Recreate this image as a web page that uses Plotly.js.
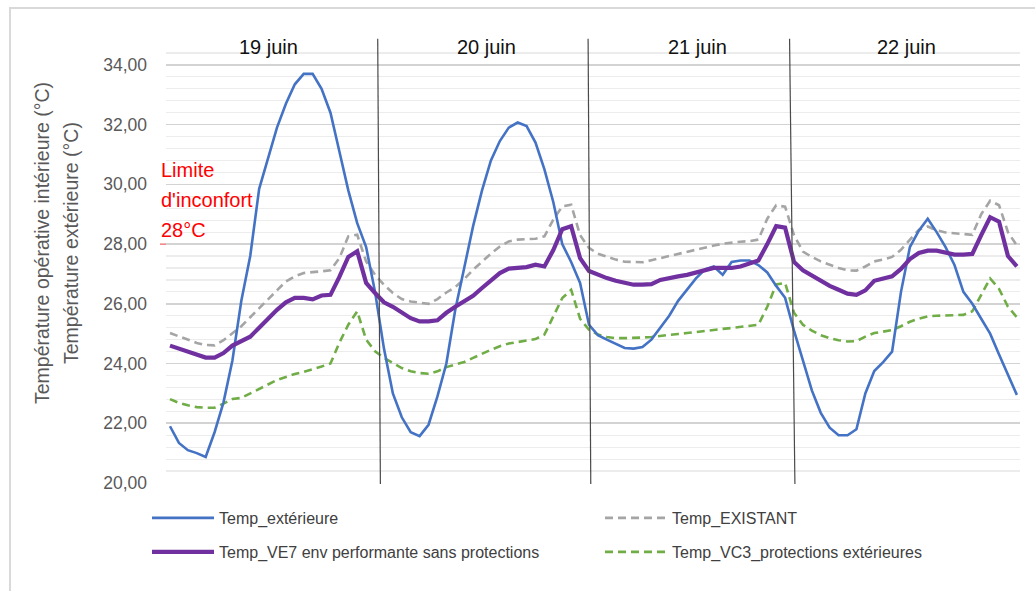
<!DOCTYPE html>
<html>
<head>
<meta charset="utf-8">
<script src="https://cdn.plot.ly/plotly-3.0.1.min.js"></script>
<style>
  html, body { margin: 0; padding: 0; background: #ffffff; }
  #wrap { position: relative; width: 1035px; height: 591px; overflow: hidden; }
  #chart { position: absolute; left: 0; top: 0; width: 1035px; height: 591px; }
  #frame { position: absolute; left: 9px; top: 7px; width: 1040px; height: 600px;
           border-top: 2px solid #d9d9d9; border-left: 2px solid #d9d9d9; pointer-events: none; }
</style>
</head>
<body>
<div id="wrap"><div id="chart"></div><div id="frame"></div></div>
<script>
// Hourly samples, 19 to 22 June (96 hours)
const hours = Array.from({length: 96}, (_, i) => i);

const tempExterieure = [
  21.9, 21.34, 21.1, 21.0, 20.87, 21.7, 22.7, 24.1, 26.1, 27.6, 29.85, 30.9, 31.9, 32.7, 33.35, 33.7, 33.7, 33.2, 32.4, 31.1, 29.8, 28.7, 27.9, 26.4, 24.5,
  23.0, 22.2, 21.7, 21.57, 21.95, 22.9, 24.0, 25.8, 27.2, 28.6, 29.8, 30.8, 31.45, 31.9, 32.07, 31.95, 31.4, 30.5, 29.4, 28.0, 27.4, 26.7, 25.3,
  24.95, 24.8, 24.65, 24.52, 24.5, 24.55, 24.8, 25.2, 25.6, 26.1, 26.46, 26.85, 27.15, 27.25, 26.97, 27.4, 27.45, 27.45, 27.3, 27.05, 26.6, 26.2,
  25.1, 24.1, 23.1, 22.35, 21.85, 21.6, 21.6, 21.8, 23.0, 23.75, 24.05, 24.4, 26.4, 27.9, 28.45, 28.85, 28.4, 27.9, 27.3, 26.4, 26.0, 25.5, 25.0, 24.3, 23.6, 22.95
];

const tempExistant = [
  25.02, 24.91, 24.8, 24.69, 24.62, 24.61, 24.78, 25.02, 25.25, 25.55, 25.85, 26.15, 26.45, 26.75, 26.92, 27.03, 27.06, 27.09, 27.12, 27.53, 28.26, 28.31, 27.42, 26.97, 26.64,
  26.36, 26.16, 26.08, 26.03, 26.0, 26.16, 26.38, 26.56, 26.83, 27.14, 27.42, 27.68, 27.92, 28.09, 28.15, 28.17, 28.18, 28.26, 28.82, 29.26, 29.32, 28.3, 27.87,
  27.68, 27.57, 27.48, 27.41, 27.39, 27.39, 27.46, 27.53, 27.61, 27.68, 27.76, 27.81, 27.88, 27.95, 28.01, 28.05, 28.08, 28.1, 28.15, 28.85, 29.3, 29.25,
  28.3, 27.75, 27.57, 27.42, 27.31, 27.2, 27.12, 27.11, 27.25, 27.42, 27.48, 27.57, 27.81, 28.15, 28.48, 28.59, 28.46, 28.39, 28.37, 28.35, 28.31, 29.0, 29.45, 29.3, 28.4, 27.95
];

const tempVE7 = [
  24.6, 24.5, 24.4, 24.3, 24.2, 24.2, 24.35, 24.6, 24.75, 24.9, 25.2, 25.5, 25.8, 26.05, 26.2, 26.2, 26.15, 26.28, 26.3, 26.9, 27.57, 27.76, 26.7, 26.36, 26.05,
  25.9, 25.7, 25.52, 25.41, 25.41, 25.45, 25.7, 25.9, 26.08, 26.27, 26.53, 26.79, 27.03, 27.18, 27.2, 27.23, 27.31, 27.25, 27.8, 28.5, 28.6, 27.53, 27.1,
  26.97, 26.86, 26.77, 26.7, 26.64, 26.64, 26.66, 26.8, 26.87, 26.92, 26.97, 27.05, 27.14, 27.2, 27.2, 27.2, 27.25, 27.34, 27.45, 28.0, 28.6, 28.55,
  27.4, 27.12, 26.94, 26.75, 26.6, 26.47, 26.34, 26.3, 26.45, 26.77, 26.85, 26.92, 27.17, 27.5, 27.7, 27.78, 27.78, 27.7, 27.65, 27.65, 27.67, 28.3, 28.9, 28.75, 27.6, 27.25
];

const tempVC3 = [
  22.81, 22.68, 22.6, 22.54, 22.52, 22.52, 22.66, 22.81, 22.85, 23.0, 23.15, 23.3, 23.45, 23.55, 23.65, 23.72, 23.8, 23.9, 24.0, 24.7, 25.3, 25.75, 24.8, 24.41, 24.19,
  24.02, 23.85, 23.74, 23.68, 23.66, 23.74, 23.88, 23.96, 24.05, 24.19, 24.33, 24.46, 24.58, 24.67, 24.72, 24.77, 24.82, 24.97, 25.6, 26.19, 26.47, 25.5, 25.13,
  24.97, 24.89, 24.85, 24.85, 24.85, 24.87, 24.89, 24.93, 24.96, 24.99, 25.02, 25.06, 25.1, 25.13, 25.16, 25.19, 25.22, 25.26, 25.3, 25.9, 26.65, 26.7,
  25.7, 25.3, 25.1, 24.95, 24.85, 24.78, 24.74, 24.75, 24.9, 25.02, 25.08, 25.12, 25.25, 25.4, 25.5, 25.58, 25.6, 25.61, 25.62, 25.63, 25.75, 26.3, 26.85, 26.5, 25.9, 25.55
];

const seriesNames = [
  'Temp_extérieure',
  'Temp_EXISTANT',
  'Temp_VE7 env performante sans protections',
  'Temp_VC3_protections extérieures'
];

const dayLabels = ['19 juin', '20 juin', '21 juin', '22 juin'];
const dayLabelHours = [11.0, 35.5, 59.2, 82.6];
// day separators (slightly slanted as in the scanned source): [top, bottom] hour
const separators = [[23.3, 23.6], [46.9, 47.2], [69.5, 70.1]];

const comfortLimit = 28;
const limitText = ['Limite', "d'inconfort", '28°C'];
const yTitleLines = ['Température opérative intérieure (°C)', 'Température extérieure (°C)'];

const FONT = 'Liberation Sans, Arial, sans-serif';

const tExt = {x: hours, y: tempExterieure, name: seriesNames[0], type: 'scatter', mode: 'lines',
   line: {color: '#4472c4', width: 2.6}, legend: 'legend'};
const tExist = {x: hours, y: tempExistant, name: seriesNames[1], type: 'scatter', mode: 'lines',
   line: {color: '#a5a5a5', width: 2.6, dash: '8px,5px'}, legend: 'legend2'};
const tVE7 = {x: hours, y: tempVE7, name: seriesNames[2], type: 'scatter', mode: 'lines',
   line: {color: '#7030a0', width: 4.2}, legend: 'legend3'};
const tVC3 = {x: hours, y: tempVC3, name: seriesNames[3], type: 'scatter', mode: 'lines',
   line: {color: '#70ad47', width: 2.6, dash: '8px,5px'}, legend: 'legend4'};
// draw order: dashed below, purple on top
const drawOrder = [tExist, tVC3, tExt, tVE7];

const shapes = [
  {type: 'line', xref: 'paper', yref: 'y', x0: -0.007, x1: 1, y0: comfortLimit, y1: comfortLimit,
   line: {color: '#ee6464', width: 1.3}, layer: 'below'}
];
separators.forEach(s => shapes.push({
  type: 'line', xref: 'x', yref: 'paper', x0: s[0], x1: s[1], y0: 1.005, y1: -0.002,
  line: {color: '#4a4a4a', width: 1.2}, layer: 'above'
}));

const annotations = [];
dayLabels.forEach((d, k) => annotations.push({
  text: d, x: dayLabelHours[k], xref: 'x', y: 0.986, yref: 'paper',
  showarrow: false, xanchor: 'center', yanchor: 'middle',
  font: {family: FONT, size: 20, color: '#111111'}
}));
limitText.forEach((t, k) => annotations.push({
  text: t, x: -0.008, xref: 'paper', y: (483 - (170 + 30 * k)) / 442, yref: 'paper',
  showarrow: false, xanchor: 'left', yanchor: 'middle',
  font: {family: FONT, size: 20, color: '#ff0000'}
}));
const yTitleX = [42, 71];
yTitleLines.forEach((t, k) => annotations.push({
  text: t, x: (yTitleX[k] - 166) / 854, xref: 'paper', y: (483 - 243) / 442, yref: 'paper',
  showarrow: false, xanchor: 'center', yanchor: 'middle', textangle: -90,
  font: {family: FONT, size: 19.5, color: '#595959'}
}));

function legendAt(px, py) {
  return {
    orientation: 'h', xanchor: 'left', yanchor: 'middle',
    x: (px - 166) / 854, y: (483 - py) / 442,
    font: {family: FONT, size: 16, color: '#404040'},
    bgcolor: 'rgba(0,0,0,0)', itemwidth: 62,
    itemclick: false, itemdoubleclick: false
  };
}

const layout = {
  width: 1035, height: 591,
  margin: {l: 166, r: 15, t: 41, b: 108, pad: 0},
  paper_bgcolor: '#ffffff', plot_bgcolor: '#ffffff',
  separators: ', ',
  showlegend: true,
  legend: legendAt(147, 518),
  legend2: legendAt(600, 518),
  legend3: legendAt(147, 552),
  legend4: legendAt(600, 552),
  xaxis: {range: [-0.45, 95.35], showgrid: false, showticklabels: false, zeroline: false,
          showline: false, ticks: '', fixedrange: true},
  yaxis: {range: [20, 34.8], tick0: 20, dtick: 2, tickformat: '.2f', zeroline: false, showline: false,
          ticks: '', ticklabelstandoff: 18,
          gridcolor: '#d3d3d3', gridwidth: 1.6,
          minor: {tick0: 20, dtick: 0.4, showgrid: true, gridcolor: '#ececec', gridwidth: 1.2},
          tickfont: {family: FONT, size: 17.5, color: '#595959'}, fixedrange: true},
  shapes: shapes,
  annotations: annotations
};

Plotly.newPlot('chart', drawOrder, layout, {displayModeBar: false, staticPlot: true});
</script>
</body>
</html>
